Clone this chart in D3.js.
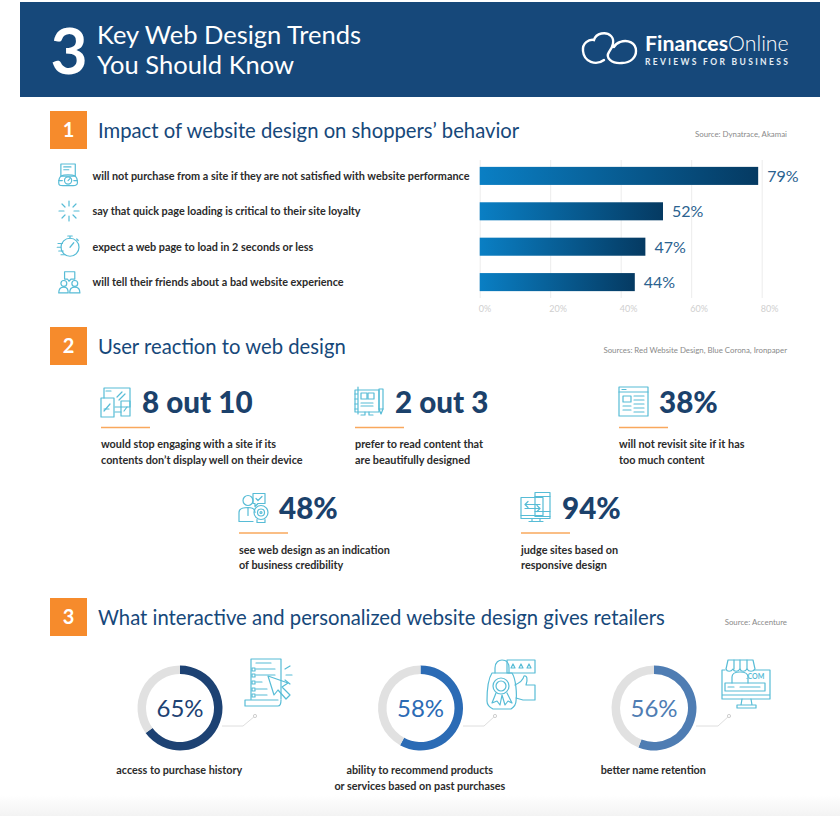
<!DOCTYPE html>
<html>
<head>
<meta charset="utf-8">
<script src="https://cdn.jsdelivr.net/npm/d3@7"></script>
<style>
  html, body { margin: 0; padding: 0; background: #fff; }
  svg { display: block; }
  text { font-family: Lato, "Open Sans", sans-serif; }
</style>
</head>
<body>
<div id="chart"></div>
<script>
const titleLines = ["Key Web Design Trends", "You Should Know"];
const sections = ["Impact of website design on shoppers’ behavior", "User reaction to web design", "What interactive and personalized website design gives retailers"];
const sources = ["Source: Dynatrace, Akamai", "Sources: Red Website Design, Blue Corona, Ironpaper", "Source: Accenture"];

const barLabels = [
  "will not purchase from a site if they are not satisfied with website performance",
  "say that quick page loading is critical to their site loyalty",
  "expect a web page to load in 2 seconds or less",
  "will tell their friends about a bad website experience"
];
const barValues = [79, 52, 47, 44];
const axisTicks = [0, 20, 40, 60, 80];

const statValues = ["8 out 10", "2 out 3", "38%", "48%", "94%"];
const statLines = [
  ["would stop engaging with a site if its", "contents don’t display well on their device"],
  ["prefer to read content that", "are beautifully designed"],
  ["will not revisit site if it has", "too much content"],
  ["see web design as an indication", "of business credibility"],
  ["judge sites based on", "responsive design"]
];

const donutValues = [65, 58, 56];
const donutColors = ["#1d4273", "#2b6bb5", "#4f7db3"];
const donutLabels = [
  ["access to purchase history"],
  ["ability to recommend products", "or services based on past purchases"],
  ["better name retention"]
];

const navy = "#16487a", orange = "#f68b2c", ice = "#57bcd6", ink = "#2b2b2b";

const svg = d3.select("#chart").append("svg").attr("width", 840).attr("height", 816);
const defs = svg.append("defs");

const barGrad = defs.append("linearGradient").attr("id", "barGrad");
barGrad.append("stop").attr("offset", "0%").attr("stop-color", "#0a7fc4");
barGrad.append("stop").attr("offset", "100%").attr("stop-color", "#053a62");
const footGrad = defs.append("linearGradient").attr("id", "footGrad").attr("x2", 0).attr("y2", 1);
footGrad.append("stop").attr("offset", "0%").attr("stop-color", "#fff");
footGrad.append("stop").attr("offset", "100%").attr("stop-color", "#f3f3f3");
const shadow = defs.append("filter").attr("id", "soft").attr("x", "-20%").attr("y", "-20%").attr("width", "140%").attr("height", "140%");
shadow.append("feDropShadow").attr("dx", 0).attr("dy", 1).attr("stdDeviation", 3).attr("flood-color", "#000").attr("flood-opacity", 0.12);

svg.append("rect").attr("y", 795).attr("width", 840).attr("height", 21).attr("fill", "url(#footGrad)");

// header band
svg.append("rect").attr("x", 20).attr("y", 2).attr("width", 800).attr("height", 95).attr("fill", navy);
svg.append("text").attr("x", 50.5).attr("y", 74).attr("font-size", 64).attr("font-weight", 700).attr("fill", "#fff").text("3");
svg.selectAll(".title").data(titleLines).enter().append("text")
  .attr("x", 97).attr("y", (d, i) => 44 + i * 29.8)
  .attr("font-size", 25.5).attr("font-weight", 400).attr("fill", "#fff").text(d => d);

// logo
svg.append("path")
  .attr("d", "M604 60C596 66 584 62 583 51C582 43 589 39 594 40C596 33 606 31 611 36C615 40 613 47 609 52C605 58 612 64 622 63C631 63 636 57 636 51C636 43 628 39 620 42C617 43 615 45 614 47")
  .attr("fill", "none").attr("stroke", "#fff").attr("stroke-width", 2.4).attr("stroke-linecap", "round");
const logo = svg.append("text").attr("x", 645).attr("y", 51).attr("font-size", 21.3).attr("fill", "#fff");
logo.append("tspan").attr("font-weight", 700).text("Finances");
logo.append("tspan").attr("font-weight", 300).text("Online");
svg.append("text").attr("x", 645).attr("y", 65).attr("font-size", 8.5).attr("font-weight", 700)
  .attr("letter-spacing", 2.35).attr("fill", "#e4edf5").text("REVIEWS FOR BUSINESS");

// section headings
const sectionTop = [111, 327, 598];
const sourceY = [137, 353, 625];
sections.forEach((s, i) => {
  svg.append("rect").attr("x", 50).attr("y", sectionTop[i]).attr("width", 37).attr("height", 38).attr("fill", orange);
  svg.append("text").attr("x", 68.5).attr("y", sectionTop[i] + 26).attr("text-anchor", "middle")
    .attr("font-size", 20).attr("font-weight", 700).attr("fill", "#fff").text(i + 1);
  svg.append("text").attr("x", 98).attr("y", sectionTop[i] + 26.7).attr("font-size", 20.25)
    .attr("fill", navy).text(s);
  svg.append("text").attr("x", 787).attr("y", sourceY[i]).attr("text-anchor", "end")
    .attr("font-size", 7.85).attr("fill", "#8a8a8a").text(sources[i]);
});

// section 1: bars
const x = d3.scaleLinear().domain([0, 80]).range([479.7, 761.7]);
const y = d3.scaleBand().domain(d3.range(barValues.length)).range([158.2, 299.8]).paddingInner(0.49).paddingOuter(0.245);

const axis = svg.append("g").attr("transform", "translate(0,298)")
  .call(d3.axisBottom(x).tickValues(axisTicks).tickSize(138).tickFormat(d => d + "%"));
axis.select(".domain").remove();
axis.selectAll("line").attr("stroke", "#ececec").attr("y1", -138).attr("y2", 0);
axis.selectAll("text").attr("y", 8).attr("dy", "0.71em").attr("text-anchor", "start")
  .attr("dx", -1.5).attr("font-size", 9).attr("fill", "#cfcfcf").style("font-family", "Lato");

svg.selectAll(".bar").data(barValues).enter().append("rect")
  .attr("x", x(0)).attr("y", (d, i) => y(i))
  .attr("width", d => x(d) - x(0)).attr("height", y.bandwidth())
  .attr("fill", "url(#barGrad)");
svg.selectAll(".barValue").data(barValues).enter().append("text")
  .attr("x", d => x(d) + 9).attr("y", (d, i) => y(i) + y.bandwidth() / 2 + 6)
  .attr("font-size", 16).attr("fill", "#2a628f").text(d => d + "%");
svg.selectAll(".barLabel").data(barLabels).enter().append("text")
  .attr("x", 92.5).attr("y", (d, i) => y(i) + y.bandwidth() / 2 + 3.8)
  .attr("font-size", 10.85).attr("font-weight", 700).attr("fill", ink).text(d => d);

// line icons, each drawn in its own 0-30 box and moved into place
function icon(px, py, scale, draw) {
  const g = svg.append("g").attr("transform", `translate(${px},${py}) scale(${scale})`)
    .attr("fill", "none").attr("stroke", ice).attr("stroke-width", 1.2 / scale)
    .attr("stroke-linecap", "round").attr("stroke-linejoin", "round");
  draw(g);
}
const P = (g, d) => g.append("path").attr("d", d);
const C = (g, cx, cy, r) => g.append("circle").attr("cx", cx).attr("cy", cy).attr("r", r);
const R = (g, rx, ry, w, h) => g.append("rect").attr("x", rx).attr("y", ry).attr("width", w).attr("height", h);

icon(58, 164, 0.72, g => { // gauge on a page
  R(g, 4, 0, 20, 17); P(g, "M8 4H18M8 8H15");
  P(g, "M1 26C1 15 7 15 14 15C21 15 27 15 27 26C27 30 23 30 21 30H7C3 30 1 30 1 26Z");
  C(g, 14, 23, 5); P(g, "M14 23L17 20M1 23H6M22 23H27");
});
icon(54, 196, 1, g => { // loading spinner
  P(g, "M15 5V10M15 20V25M5 15H10M20 15H25M8 8L11 11M22 8L19 11M8 22L11 19M22 22L19 19");
});
icon(58, 236, 0.75, g => { // stopwatch
  C(g, 16, 15, 12); P(g, "M13 0H19M16 0V3M25 4L27 6M16 15L21 9M0 10H6M-1 15H4M1 20H7M4 25H9");
});
icon(58, 271, 0.73, g => { // two people and a speech bubble
  P(g, "M9 1H23V11H18L15 14L13 11H9Z");
  C(g, 8, 17, 4); C(g, 23, 17, 4);
  P(g, "M1 30C1 24 4 22 8 22C12 22 14 24 14 30ZM16 30C16 24 19 22 23 22C27 22 30 24 30 30Z");
});

// section 2: stats
const statX = [101, 355, 619, 239, 521];
const statY = [413, 413, 413, 518.5, 518.5];
const statIcons = [
  g => { P(g, "M8 22H3M14 20H29V1H3V11M5 4H10M16 10L21 5M18 13L24 7"); R(g, 0, 11, 13, 19); R(g, 20, 14, 9, 15); P(g, "M3 24L9 17M23 24L26 20M14 25H20"); },
  g => { R(g, 0, 3, 24, 22); P(g, "M3 0V27M0 7H3M0 12H3M0 17H3M0 22H3"); R(g, 6, 6, 6, 6); R(g, 13, 6, 6, 6); P(g, "M6 16H18M6 19H18M10 25V28H6M14 25V28H18"); R(g, 24, 2, 4, 20); P(g, "M24 22L26 27L28 22"); },
  g => { R(g, 0, 0, 29, 29); P(g, "M0 5H29M3 2.5H7"); R(g, 4, 9, 8, 6); P(g, "M4 19H12M4 23H12M15 9H25M15 13H25M15 17H25M15 21H25M15 25H25"); },
  g => { C(g, 9, 8, 5); P(g, "M0 29V20C0 16 5 15 9 15C13 15 16 16 16 20M0 29H14M9 15V23"); P(g, "M14 1H26V11H19L16 14V11H14Z"); P(g, "M17 6L19 8L23 4"); C(g, 22, 20, 7); C(g, 22, 20, 3.5); C(g, 22, 20, 1); P(g, "M18 27V30H26V27"); },
  g => { R(g, 14, 0, 15, 24); P(g, "M14 4H29M14 19H29"); R(g, 0, 5, 22, 18); P(g, "M4 12H19M4 12L7 9M4 12L7 15M19 16H4M19 16L16 13M19 16L16 19"); P(g, "M0 23V26H29V24M11 26V29M19 26V29M8 29H22"); }
];
statValues.forEach((d, i) => {
  icon(statX[i], statY[i] - 26, 1, statIcons[i]);
  svg.append("text").attr("x", statX[i] + (i === 4 ? 41 : i === 3 ? 40 : i === 0 ? 41 : 40)).attr("y", statY[i])
    .attr("font-size", 29.6).attr("font-weight", 900).attr("fill", "#1b416b").text(d);
  svg.append("line").attr("x1", statX[i]).attr("x2", statX[i] + 49)
    .attr("y1", statY[i] + 14.5).attr("y2", statY[i] + 14.5)
    .attr("stroke", "#f9a85d").attr("stroke-width", 1.3);
  statLines[i].forEach((line, j) => {
    svg.append("text").attr("x", statX[i]).attr("y", statY[i] + 35 + j * 15.5)
      .attr("font-size", 10.85).attr("font-weight", 700).attr("fill", ink).text(line);
  });
});

// section 3: donuts
const donutX = [180, 420.5, 654];
const donutY = 708;
const arc = d3.arc().innerRadius(34).outerRadius(42.5);
const pie = d3.pie().sort(null);
const connectors = ["M222 726H243L255 716", "M463 726H484L495 716", "M696 726H718L729 716"];
const connectorEnds = [[255, 716], [495, 716], [729, 716]];

donutValues.forEach((v, i) => {
  svg.append("path").attr("d", connectors[i]).attr("fill", "none").attr("stroke", "#dedede");
  svg.append("circle").attr("cx", connectorEnds[i][0]).attr("cy", connectorEnds[i][1]).attr("r", 1.6)
    .attr("fill", "#fff").attr("stroke", "#cfcfcf");
  const g = svg.append("g").attr("transform", `translate(${donutX[i]},${donutY})`);
  g.append("circle").attr("r", 34).attr("fill", "#fff").attr("filter", "url(#soft)");
  g.selectAll("path").data(pie([v, 100 - v])).enter().append("path")
    .attr("d", arc).attr("fill", (d, k) => k === 0 ? donutColors[i] : "#e1e1e1");
  g.append("text").attr("text-anchor", "middle").attr("y", 8.5).attr("font-size", 24)
    .attr("fill", donutColors[i]).text(v + "%");
  donutLabels[i].forEach((line, j) => {
    svg.append("text").attr("x", donutX[i] - 0.7).attr("y", 774 + j * 16).attr("text-anchor", "middle")
      .attr("font-size", 10.8).attr("font-weight", 700).attr("fill", ink).text(line);
  });
});

icon(245, 659, 1, g => { // checklist with cursor
  P(g, "M6 0H36V40M6 0V40M0 41H33M0 41V47H33C36 47 36 44 36 41");
  P(g, "M11 4H26M11 10H30M11 16H30M11 23H17M11 30H22M11 36H22");
  R(g, 7, 9, 3, 3); R(g, 7, 15, 3, 3); R(g, 7, 22, 3, 3); R(g, 7, 29, 3, 3); R(g, 7, 35, 3, 3);
  P(g, "M23 17L29 36L33 31L41 40L45 36L37 28L43 24Z");
  P(g, "M40 10L45 7M41 16H47M40 21L45 25");
});
icon(486, 659, 1, g => { // padlock, badge and thumb
  P(g, "M9 14V9C9 3 13 1 16 1C20 1 23 3 23 9V14");
  P(g, "M6 14H26C30 20 31 35 30 42C30 46 28 48 25 50H7C3 48 1 46 1 42C1 35 2 20 6 14Z");
  C(g, 15, 27, 8); C(g, 15, 27, 5); P(g, "M10 34L6 44L11 42L14 46L16 36L19 46L22 42L26 44L21 34");
  R(g, 21, 1, 28, 13); P(g, "M27 5L29 9L25 9ZM35 5L37 9L33 9ZM43 5L45 9L41 9Z");
  P(g, "M29 26C33 24 37 22 38 17C41 16 42 20 40 26H49V41H37L30 39");
});
icon(720, 659, 1, g => { // storefront and browser window
  P(g, "M5 11H2V40H50V11H34M2 36H50");
  P(g, "M8 1H33L35 10C33 13 29 13 27 10C25 13 21 13 20 10C18 13 14 13 13 10C11 13 7 13 6 10Z");
  P(g, "M14 1V10M20 1V10M27 1V10");
  P(g, "M12 24V18C12 14 16 13 20 13C25 13 28 14 28 18V24");
  R(g, 5, 24, 40, 8); P(g, "M8 28H14M20 28H40");
  P(g, "M22 40L21 46M31 40L32 46M17 49H36V46H17Z");
  svg.append("text").attr("x", 746).attr("y", 679).attr("font-size", 7).attr("font-weight", 700).attr("fill", ice).text(".COM");
});
</script>
</body>
</html>
